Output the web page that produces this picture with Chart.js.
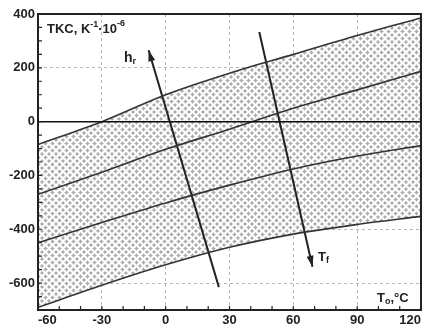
<!DOCTYPE html>
<html>
<head>
<meta charset="utf-8">
<script src="https://cdn.jsdelivr.net/npm/chart.js@4"></script>
<style>
  html, body { margin: 0; padding: 0; background: #fff; }
  #wrap { width: 424px; height: 328px; }
</style>
</head>
<body>
<div id="wrap"><canvas id="c"></canvas></div>
<script>
// ambient temperature, deg C
const temps = [-60, -30, 0, 30, 60, 90, 120];
// TKC curves, 1e-6 / K
const upperBound = [-85, 0, 100, 180, 250, 320, 385];
const upperMid = [-270, -188, -103, -28, 50, 118, 187];
const lowerMid = [-450, -375, -302, -236, -176, -128, -89];
const lowerBound = [-690, -608, -532, -467, -418, -382, -352];
const yTicks = [-600, -400, -200, 0, 200, 400];
// direction arrows (start -> head), in data units
const hrArrow = [{x: 25, y: -615}, {x: -8, y: 265}];
const tfArrow = [{x: 44, y: 333}, {x: 69, y: -539}];

const FONT = 'Liberation Sans';

function hatchPattern() {
  var n = 7;
  var p = document.createElement('canvas');
  p.width = n; p.height = n;
  var g = p.getContext('2d');
  var h = n / 2;
  var centers = [[h, h], [0, 0], [n, 0], [0, n], [n, n]];
  for (var y = 0; y < n; y++) {
    for (var x = 0; x < n; x++) {
      var d = 99;
      centers.forEach(function (c) {
        d = Math.min(d, Math.abs(x + 0.5 - c[0]) + Math.abs(y + 0.5 - c[1]));
      });
      g.fillStyle = d <= 1.6 ? '#acacac' : (d <= 2.6 ? '#d6d6d6' : '#ffffff');
      g.fillRect(x, y, 1, 1);
    }
  }
  return g.createPattern(p, 'repeat');
}

function pts(vals) {
  return temps.map(function (t, i) { return {x: t, y: vals[i]}; });
}

function curve(vals, extra) {
  return Object.assign({
    data: pts(vals),
    borderColor: '#333',
    borderWidth: 1.6,
    pointRadius: 0,
    tension: 0.4,
    cubicInterpolationMode: 'monotone',
    fill: false,
  }, extra || {});
}

function arrow(points) {
  return {
    data: points,
    borderColor: '#222',
    borderWidth: 2,
    pointRadius: 0,
    tension: 0,
    fill: false,
    isArrow: true,
  };
}

function drawRich(ctx, parts, x, y) {
  parts.forEach(function (p) {
    ctx.font = 'bold ' + p[1] + 'px "' + FONT + '"';
    ctx.fillText(p[0], x, y + p[2]);
    x += ctx.measureText(p[0]).width;
  });
}

var decor = {
  id: 'decor',
  afterDatasetsDraw: function (chart) {
    var ctx = chart.ctx, a = chart.chartArea;
    var xs = chart.scales.x, ys = chart.scales.y;
    ctx.save();
    // zero line
    ctx.strokeStyle = '#111';
    ctx.lineWidth = 1.5;
    var y0 = ys.getPixelForValue(0);
    ctx.beginPath(); ctx.moveTo(a.left, y0); ctx.lineTo(a.right, y0); ctx.stroke();
    // frame
    ctx.strokeStyle = '#222';
    ctx.lineWidth = 2;
    ctx.strokeRect(a.left, a.top, a.right - a.left, a.bottom - a.top);
    // minor ticks, inward
    ctx.lineWidth = 1.2;
    ctx.beginPath();
    for (var v = -60; v <= 120; v += 10) {
      var px = xs.getPixelForValue(v);
      ctx.moveTo(px, a.bottom); ctx.lineTo(px, a.bottom - 4);
    }
    for (var w = -700; w <= 400; w += 50) {
      var py = ys.getPixelForValue(w);
      ctx.moveTo(a.left, py); ctx.lineTo(a.left + 4, py);
    }
    ctx.stroke();
    // arrow heads
    chart.data.datasets.forEach(function (ds, i) {
      if (!ds.isArrow) return;
      var m = chart.getDatasetMeta(i).data;
      var p0 = m[0], p1 = m[m.length - 1];
      var ang = Math.atan2(p1.y - p0.y, p1.x - p0.x);
      ctx.fillStyle = '#222';
      ctx.beginPath();
      ctx.moveTo(p1.x, p1.y);
      ctx.lineTo(p1.x - 11 * Math.cos(ang) + 3.5 * Math.sin(ang), p1.y - 11 * Math.sin(ang) - 3.5 * Math.cos(ang));
      ctx.lineTo(p1.x - 11 * Math.cos(ang) - 3.5 * Math.sin(ang), p1.y - 11 * Math.sin(ang) + 3.5 * Math.cos(ang));
      ctx.closePath();
      ctx.fill();
    });
    // texts
    ctx.fillStyle = '#222';
    ctx.textAlign = 'left';
    ctx.textBaseline = 'alphabetic';
    drawRich(ctx, [['TKC, K', 13, 0], ['-1', 9, -6], ['\u00b710', 13, 0], ['-6', 9, -7]],
      xs.getPixelForValue(-55.8), ys.getPixelForValue(329));
    drawRich(ctx, [['h', 14, 0], ['r', 9, 2]],
      xs.getPixelForValue(-19.6), ys.getPixelForValue(221));
    drawRich(ctx, [['T', 13, 0], ['f', 9, 2]],
      xs.getPixelForValue(71.6), ys.getPixelForValue(-518));
    drawRich(ctx, [['T', 13, 0], ['o', 9, 2], [',\u00b0C', 13, 0]],
      xs.getPixelForValue(99.3), ys.getPixelForValue(-671));
    ctx.restore();
  }
};

var chart = new Chart(document.getElementById('c'), {
  type: 'line',
  plugins: [decor],
  data: {
    datasets: [
      curve(upperBound, {fill: 3, backgroundColor: hatchPattern()}),
      curve(upperMid),
      curve(lowerMid),
      curve(lowerBound),
      arrow(hrArrow),
      arrow(tfArrow),
    ]
  },
  options: {
    responsive: true,
    maintainAspectRatio: false,
    animation: false,
    layout: {
      padding: {top: 14, right: 3, left: 0, bottom: 0}
    },
    plugins: {
      legend: {display: false},
      tooltip: {enabled: false},
      filler: {drawTime: 'beforeDatasetsDraw'},
    },
    scales: {
      x: {
        type: 'linear',
        min: -60,
        max: 120,
        ticks: {
          stepSize: 30,
          align: 'inner',
          padding: 3,
          color: '#222',
          font: {family: FONT, size: 13, weight: 'bold'},
        },
        grid: {
          color: '#b8b8b8',
          drawTicks: false,
        },
        border: {display: false, dash: [3, 3]},
        afterFit: function (s) { s.height = 18; },
      },
      y: {
        min: -700,
        max: 400,
        afterBuildTicks: function (s) {
          s.ticks = yTicks.map(function (v) { return {value: v}; });
        },
        ticks: {
          padding: 3,
          color: '#222',
          font: {family: FONT, size: 13, weight: 'bold'},
        },
        grid: {
          color: function (c) { return c.tick && c.tick.value === 0 ? 'rgba(0,0,0,0)' : '#b8b8b8'; },
          drawTicks: false,
        },
        border: {display: false, dash: [3, 3]},
        afterFit: function (s) { s.width = 38; },
      }
    }
  },
});
</script>
</body>
</html>
